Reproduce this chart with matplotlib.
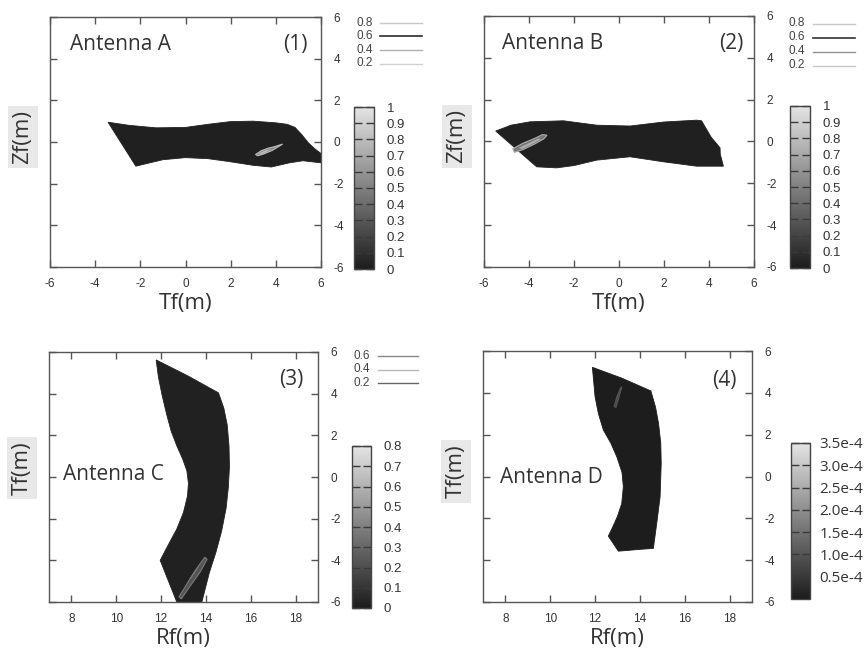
import matplotlib
matplotlib.use("Agg")
import matplotlib.pyplot as plt
from matplotlib.colors import LinearSegmentedColormap, Normalize
from matplotlib.cm import ScalarMappable
from matplotlib.lines import Line2D

plt.rcParams["font.family"] = ["Liberation Sans", "DejaVu Sans"]
plt.rcParams["axes.unicode_minus"] = False

# --- data (footprint outlines, hot spots, scales) ---
shape_a_x = [-3.43, -2.5, -1.3, 0.0, 1.0, 2.0, 3.0, 4.0, 4.5, 4.85, 5.15, 5.45, 5.75, 6.0,
             6.0, 5.6, 5.2, 4.6, 3.8, 3.0, 2.0, 1.0, 0.0, -1.0, -2.2]
shape_a_y = [0.95, 0.8, 0.68, 0.7, 0.85, 0.98, 1.0, 0.92, 0.85, 0.7, 0.35, -0.05, -0.35, -0.55,
             -1.0, -0.95, -0.9, -1.0, -1.2, -1.12, -0.95, -0.8, -0.75, -0.85, -1.16]
spot_a_x = [3.1, 3.35, 3.65, 3.95, 4.3, 3.85, 3.45, 3.2]
spot_a_y = [-0.6, -0.42, -0.3, -0.22, -0.1, -0.4, -0.58, -0.66]
core_a_x = [3.25, 3.5, 3.8, 3.55, 3.3]
core_a_y = [-0.55, -0.42, -0.33, -0.5, -0.6]

shape_b_x = [-5.48, -4.8, -3.96, -2.47, -0.99, 0.49, 1.97, 3.45, 3.67, 4.1, 4.49, 4.5, 4.64,
             3.45, 1.97, 0.49, -0.99, -2.0, -2.77, -3.66]
shape_b_y = [0.5, 0.78, 0.94, 0.99, 0.78, 0.74, 0.93, 1.02, 0.99, 0.2, -0.3, -0.6, -1.18,
             -1.18, -0.97, -0.73, -0.89, -1.15, -1.26, -1.21]
spot_b_x = [-4.72, -4.3, -3.75, -3.4, -3.2, -3.35, -3.75, -4.25, -4.65]
spot_b_y = [-0.35, -0.1, 0.15, 0.33, 0.3, 0.12, -0.12, -0.38, -0.52]
core_b_x = [-4.45, -4.05, -3.6, -3.45, -3.85, -4.3]
core_b_y = [-0.3, -0.1, 0.14, 0.12, -0.12, -0.36]

shape_c_x = [11.78, 13.2, 14.56, 14.8, 14.95, 15.03, 15.05, 15.0, 14.9, 14.7, 14.45, 14.15,
             13.82, 12.7, 11.96, 12.3, 12.7, 13.0, 13.18, 13.22, 13.15, 12.95, 12.7, 12.45,
             12.25, 12.05, 11.88]
shape_c_y = [5.62, 4.85, 4.04, 3.3, 2.5, 1.5, 0.5, -0.5, -1.5, -2.6, -3.6, -4.6,
             -6.0, -6.0, -4.0, -3.3, -2.5, -1.7, -0.9, -0.3, 0.3, 0.9, 1.5, 2.2,
             3.0, 3.9, 4.81]
spot_c_x = [12.8, 13.2, 13.55, 13.95, 14.05, 13.75, 13.35, 12.9]
spot_c_y = [-5.75, -5.05, -4.45, -3.85, -3.95, -4.55, -5.15, -5.85]
core_c_x = [13.25, 13.45, 13.7, 13.6, 13.35]
core_c_y = [-4.9, -4.6, -4.25, -4.45, -4.85]

shape_d_x = [11.88, 13.2, 14.49, 14.7, 14.83, 14.93, 14.95, 14.9, 14.75, 14.6, 14.16, 13.04,
             12.59, 12.79, 13.0, 13.19, 13.26, 13.2, 12.97, 12.7, 12.37, 12.15, 12.0]
shape_d_y = [5.22, 4.7, 4.09, 3.3, 2.54, 1.6, 0.63, -0.97, -2.24, -3.44, -3.47, -3.57,
             -2.85, -2.41, -1.9, -1.29, -0.49, 0.2, 0.94, 1.6, 2.22, 3.0, 3.81]
spot_d_x = [12.85, 12.97, 13.12, 13.2, 13.08, 12.93]
spot_d_y = [3.35, 3.8, 4.2, 4.3, 3.85, 3.3]
core_d_x = [12.92, 13.02, 13.1, 13.0]
core_d_y = [3.5, 3.85, 4.0, 3.65]

levels_a = [0.02, 0.55, 0.8]
levels_b = [0.02, 0.45, 0.72]
levels_c = [0.02, 0.22, 0.38]
levels_d = [0.2e-5, 0.7e-4, 1.0e-4]

cb_ticks_ab = [0, 0.1, 0.2, 0.3, 0.4, 0.5, 0.6, 0.7, 0.8, 0.9, 1.0]
cb_labels_ab = ["0", "0.1", "0.2", "0.3", "0.4", "0.5", "0.6", "0.7", "0.8", "0.9", "1"]
cb_ticks_c = [0, 0.1, 0.2, 0.3, 0.4, 0.5, 0.6, 0.7, 0.8]
cb_labels_c = ["0", "0.1", "0.2", "0.3", "0.4", "0.5", "0.6", "0.7", "0.8"]
cb_ticks_d = [0.5e-4, 1.0e-4, 1.5e-4, 2.0e-4, 2.5e-4, 3.0e-4, 3.5e-4]
cb_labels_d = ["0.5e-4", "1.0e-4", "1.5e-4", "2.0e-4", "2.5e-4", "3.0e-4", "3.5e-4"]

key_ab = ["0.8", "0.6", "0.4", "0.2"]
key_c = ["0.6", "0.4", "0.2"]

W, H = 865, 648
fig = plt.figure(figsize=(W / 100, H / 100), dpi=100)
cmap = LinearSegmentedColormap.from_list("gp_gray", ["#1c1c1c", "#e4e4e4"])
FRAME = "#555555"
TXT = "#333333"


def px_rect(x0, y0, x1, y1):
    return [x0 / W, 1 - y1 / H, (x1 - x0) / W, (y1 - y0) / H]


def draw_key(x_text, x0, x1, y_top, dy, labels, colors, widths):
    for i, (lab, c, lw) in enumerate(zip(labels, colors, widths)):
        y = 1 - (y_top + i * dy) / H
        fig.text(x_text / W, y, lab, ha="right", va="center", fontsize=8.5, color="#444444")
        fig.add_artist(Line2D([x0 / W, x1 / W], [y, y], color=c, lw=lw))


panels = [
    dict(rect=(50, 17, 321, 267), cb=(354, 107, 374, 269), xlim=(-6, 6), xt=range(-6, 7, 2),
         shape=(shape_a_x, shape_a_y), spot=(spot_a_x, spot_a_y), core=(core_a_x, core_a_y),
         levels=levels_a, vmax=1.0, cbt=cb_ticks_ab, cbl=cb_labels_ab,
         name="Antenna A", name_xy=(0.074, 0.888), tag="(1)", tag_xy=(0.952, 0.89),
         xlabel="Tf(m)", ylabel="Zf(m)", ylab_y=0.52),
    dict(rect=(484, 16, 754, 267), cb=(790, 106, 810, 268), xlim=(-6, 6), xt=range(-6, 7, 2),
         shape=(shape_b_x, shape_b_y), spot=(spot_b_x, spot_b_y), core=(core_b_x, core_b_y),
         levels=levels_b, vmax=1.0, cbt=cb_ticks_ab, cbl=cb_labels_ab,
         name="Antenna B", name_xy=(0.066, 0.892), tag="(2)", tag_xy=(0.96, 0.892),
         xlabel="Tf(m)", ylabel="Zf(m)", ylab_y=0.52),
    dict(rect=(49, 352, 318, 602), cb=(352, 446, 371, 608), xlim=(7, 19), xt=range(8, 19, 2),
         shape=(shape_c_x, shape_c_y), spot=(spot_c_x, spot_c_y), core=(core_c_x, core_c_y),
         levels=levels_c, vmax=0.8, cbt=cb_ticks_c, cbl=cb_labels_c,
         name="Antenna C", name_xy=(0.051, 0.508), tag="(3)", tag_xy=(0.945, 0.888),
         xlabel="Rf(m)", ylabel="Tf(m)", ylab_y=0.535),
    dict(rect=(483, 351, 752, 602), cb=(791, 443, 810, 599), xlim=(7, 19), xt=range(8, 19, 2),
         shape=(shape_d_x, shape_d_y), spot=(spot_d_x, spot_d_y), core=(core_d_x, core_d_y),
         levels=levels_d, vmax=3.5e-4, cbt=cb_ticks_d, cbl=cb_labels_d,
         name="Antenna D", name_xy=(0.063, 0.496), tag="(4)", tag_xy=(0.943, 0.884),
         xlabel="Rf(m)", ylabel="Tf(m)", ylab_y=0.52),
]

for p in panels:
    ax = fig.add_axes(px_rect(*p["rect"]))
    norm = Normalize(0, p["vmax"])
    lv = p["levels"]
    ax.fill(*p["shape"], color=cmap(norm(lv[0])), lw=0.6, ec=cmap(norm(lv[0])))
    ax.fill(*p["spot"], color=cmap(norm(lv[1])), lw=0.8, ec=cmap(norm(lv[2])))
    ax.fill(*p["core"], color=cmap(norm(lv[2])), lw=0)

    ax.set_xlim(*p["xlim"])
    ax.set_ylim(-6, 6)
    ax.set_xticks(list(p["xt"]))
    ax.set_yticks(range(-6, 7, 2))
    ax.yaxis.tick_right()
    ax.tick_params(direction="in", length=5, width=1, color=FRAME, labelcolor=TXT,
                   labelsize=8.5, top=True, bottom=True, left=True, right=True,
                   labelleft=False, labelright=True)
    ax.tick_params(axis="x", pad=8)
    ax.tick_params(axis="y", pad=9)
    for s in ax.spines.values():
        s.set_color(FRAME)
        s.set_linewidth(1)

    ax.text(*p["name_xy"], p["name"], transform=ax.transAxes, fontsize=15,
            family="Open Sans", color=TXT, va="center", ha="left")
    ax.text(*p["tag_xy"], p["tag"], transform=ax.transAxes, fontsize=15,
            family="Open Sans", color=TXT, va="center", ha="right")

    ax.set_xlabel(p["xlabel"], fontsize=16, family="Open Sans", color=TXT, va="center")
    ax.xaxis.set_label_coords(0.5, -0.145)
    ax.yaxis.set_label_position("left")
    ax.set_ylabel(p["ylabel"], fontsize=16, family="Open Sans", color=TXT, va="center",
                  bbox=dict(facecolor="#e8e8e8", edgecolor="none", pad=3))
    ax.yaxis.set_label_coords(-0.1, p["ylab_y"])

    cax = fig.add_axes(px_rect(*p["cb"]))
    cb = fig.colorbar(ScalarMappable(norm=norm, cmap=cmap), cax=cax)
    cb.set_ticks(p["cbt"])
    cb.set_ticklabels(p["cbl"])
    small = p["vmax"] < 1e-2
    cb.ax.tick_params(direction="in", length=6, width=1, color="#3a3a3a", left=True,
                      right=True, labelsize=11 if small else 9.5,
                      labelcolor=TXT, pad=7 if small else 9)
    if small:
        for t in cb.ax.get_yticklabels():
            t.set_family("Open Sans")
    cb.outline.set_edgecolor("#444444")
    cb.outline.set_linewidth(1)

draw_key(373, 380, 422, 22.7, 13.6, key_ab,
         ["#c8c8c8", "#2a2a2a", "#b0b0b0", "#d0d0d0"], [1, 1.2, 1, 1])
draw_key(805, 813, 855, 23.5, 14, key_ab,
         ["#c8c8c8", "#333333", "#909090", "#c8c8c8"], [1, 1.2, 1, 1])
draw_key(370, 378, 418, 356, 13.5, key_c,
         ["#888888", "#b8b8b8", "#666666"], [1, 1, 1])

fig.savefig("out.png", dpi=100, facecolor="white")
